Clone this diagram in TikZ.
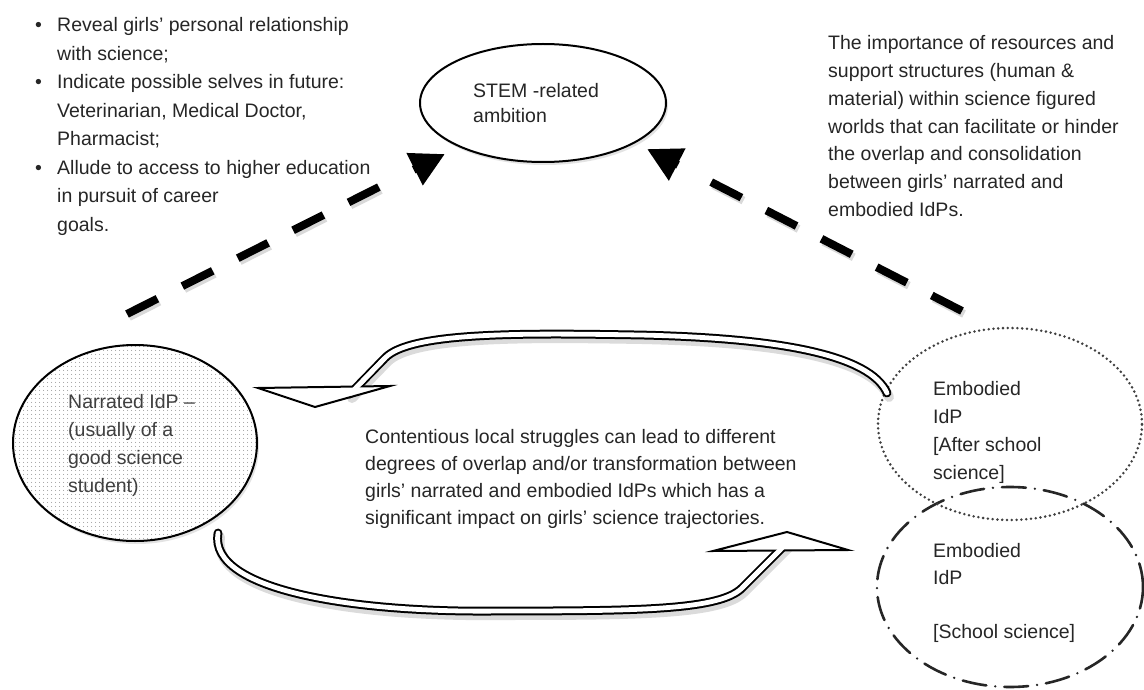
\documentclass[tikz,border=0pt]{standalone}
\usepackage{fontspec}
\setmainfont{Liberation Sans}
\usetikzlibrary{arrows.meta,shadows,patterns.meta,shapes.geometric}
\begin{document}
\begin{tikzpicture}[x=1pt,y=-1pt,
  txt/.style={inner sep=0pt, anchor=base west, text=black!85},
  plainell/.style={ellipse, inner sep=0pt, draw=black, line width=2pt},
  softshadow/.style={drop shadow={opacity=0.22, shadow xshift=2pt, shadow yshift=-3pt}},
  dotell/.style={ellipse, inner sep=0pt, draw=black!75, line width=2.8pt, dash pattern=on 0pt off 4.8pt, line cap=round},
  dashdotell/.style={ellipse, inner sep=0pt, draw=black!85, line width=2.6pt, line cap=round, dash pattern=on 24pt off 9pt on 0pt off 9pt},
  shaft/.style={line width=8pt, dash pattern=on 34pt off 28pt},
  shaftshadow/.style={shaft, draw=black!15, transform canvas={shift={(2pt,-3pt)}}},
  bighead/.style={line width=8pt, -{Triangle[length=34pt,width=34pt]}},
  band/.style={draw=black, line width=2pt, double=white, double distance=4.8pt, line cap=round},
  bandcore/.style={draw=white, line width=4.8pt, line cap=butt},
  bandshadow/.style={draw=black!14, line width=10pt, line cap=round, transform canvas={shift={(2pt,-4pt)}}},
  bandhead/.style={fill=white, draw=black, line width=2pt, line join=miter},
]
\useasboundingbox (0,0) rectangle (1144,690);
\fill[white] (0,0) rectangle (1144,690);

% ---------- coordinates ----------
\coordinate (upT) at (887,393);
\coordinate (upP) at (385,358);
\coordinate (upE) at (350,394);
\coordinate (uh1) at (258,388);
\coordinate (uh2) at (390,386);
\coordinate (uh3) at (315,407);
\coordinate (loT) at (218,533);
\coordinate (loP) at (742,588);
\coordinate (loE) at (788,542);
\coordinate (lh1) at (713,551);
\coordinate (lh2) at (787,532);
\coordinate (lh3) at (848,550);
\coordinate (ls) at (127,314);
\coordinate (le) at (379,187);
\coordinate (lb) at (413.7,169.7);
\coordinate (lt) at (445,154);
\coordinate (rs) at (962,311);
\coordinate (re) at (711,182);
\coordinate (rb) at (678,165);
\coordinate (rt) at (647,149);

% ---------- shadows of bands ----------
\draw[bandshadow] (upT) .. controls (870,355) and (780,338) .. (640,335)
   .. controls (520,333) and (410,332) .. (upP) -- (upE);
\draw[bandshadow] (loT) .. controls (208,592) and (360,613) .. (500,611)
   .. controls (640,611) and (720,610) .. (loP) -- (loE);

% ---------- ellipses ----------
\node[plainell, softshadow, fill=white, minimum width=246pt, minimum height=118pt] (stem) at (543,103) {};
\node[plainell, softshadow, preaction={fill=white}, pattern={Dots[distance=4pt,radius=0.6pt]}, pattern color=black!45,
      minimum width=244pt, minimum height=196pt] (narr) at (135,443) {};
\node[dashdotell, minimum width=266pt, minimum height=200pt] (school) at (1010,587) {};
\node[dotell, minimum width=264pt, minimum height=192pt] (after) at (1010,424) {};

% ---------- curved hollow arrows ----------
\draw[band] (upT) .. controls (870,355) and (780,338) .. (640,335)
   .. controls (520,333) and (410,332) .. (upP) -- (upE);
\filldraw[bandhead] (uh1) -- (uh2) -- (uh3) -- cycle;
\draw[bandcore] (upP) -- (upE);

\draw[band] (loT) .. controls (208,592) and (360,613) .. (500,611)
   .. controls (640,611) and (720,610) .. (loP) -- (loE);
\filldraw[bandhead] (lh1) -- (lh2) -- (lh3) -- cycle;
\draw[bandcore] (loP) -- (loE);

% ---------- dashed arrows ----------
\draw[shaftshadow] (ls) -- (le);
\draw[shaftshadow] (rs) -- (re);
\draw[shaft] (ls) -- (le);
\draw[bighead] (lb) -- (lt);
\draw[shaft] (rs) -- (re);
\draw[bighead] (rb) -- (rt);

% ---------- texts ----------
\node[txt, font=\fontsize{19.5}{28.5}\selectfont] (bul) at (35,32) {\begin{tabular}[t]{@{}p{22pt}@{}l@{}}
\textbullet & Reveal girls’ personal relationship\\
 & with science;\\
\textbullet & Indicate possible selves in future:\\
 & Veterinarian, Medical Doctor,\\
 & Pharmacist;\\
\textbullet & Allude to access to higher education\\
 & in pursuit of career\\
 & goals.
\end{tabular}};

\node[txt, font=\fontsize{19.5}{27.7}\selectfont] (res) at (828,50) {\begin{tabular}[t]{@{}l@{}}
The importance of resources and\\
support structures (human \&\\
material) within science figured\\
worlds that can facilitate or hinder\\
the overlap and consolidation\\
between girls’ narrated and\\
embodied IdPs.
\end{tabular}};

\node[txt, font=\fontsize{19.5}{25}\selectfont] (stemtxt) at (473,98) {\begin{tabular}[t]{@{}l@{}}
STEM -related\\
ambition
\end{tabular}};

\node[txt, text=black!75, font=\fontsize{19.5}{28}\selectfont] (narrtxt) at (68,408) {\begin{tabular}[t]{@{}l@{}}
Narrated IdP –\\
(usually of a\\
good science\\
student)
\end{tabular}};

\node[txt, font=\fontsize{19.5}{27}\selectfont] (midtxt) at (365,443) {\begin{tabular}[t]{@{}l@{}}
Contentious local struggles can lead to different\\
degrees of overlap and/or transformation between\\
girls’ narrated and embodied IdPs which has a\\
significant impact on girls’ science trajectories.
\end{tabular}};

\node[txt, font=\fontsize{19.5}{28}\selectfont] (aftertxt) at (933,395) {\begin{tabular}[t]{@{}l@{}}
Embodied\\
IdP\\
{}[After school\\
science]
\end{tabular}};

\node[txt, font=\fontsize{19.5}{27}\selectfont] (schooltxt) at (933,557) {\begin{tabular}[t]{@{}l@{}}
Embodied\\
IdP\\
\mbox{}\\
{}[School science]
\end{tabular}};
\end{tikzpicture}
\end{document}
